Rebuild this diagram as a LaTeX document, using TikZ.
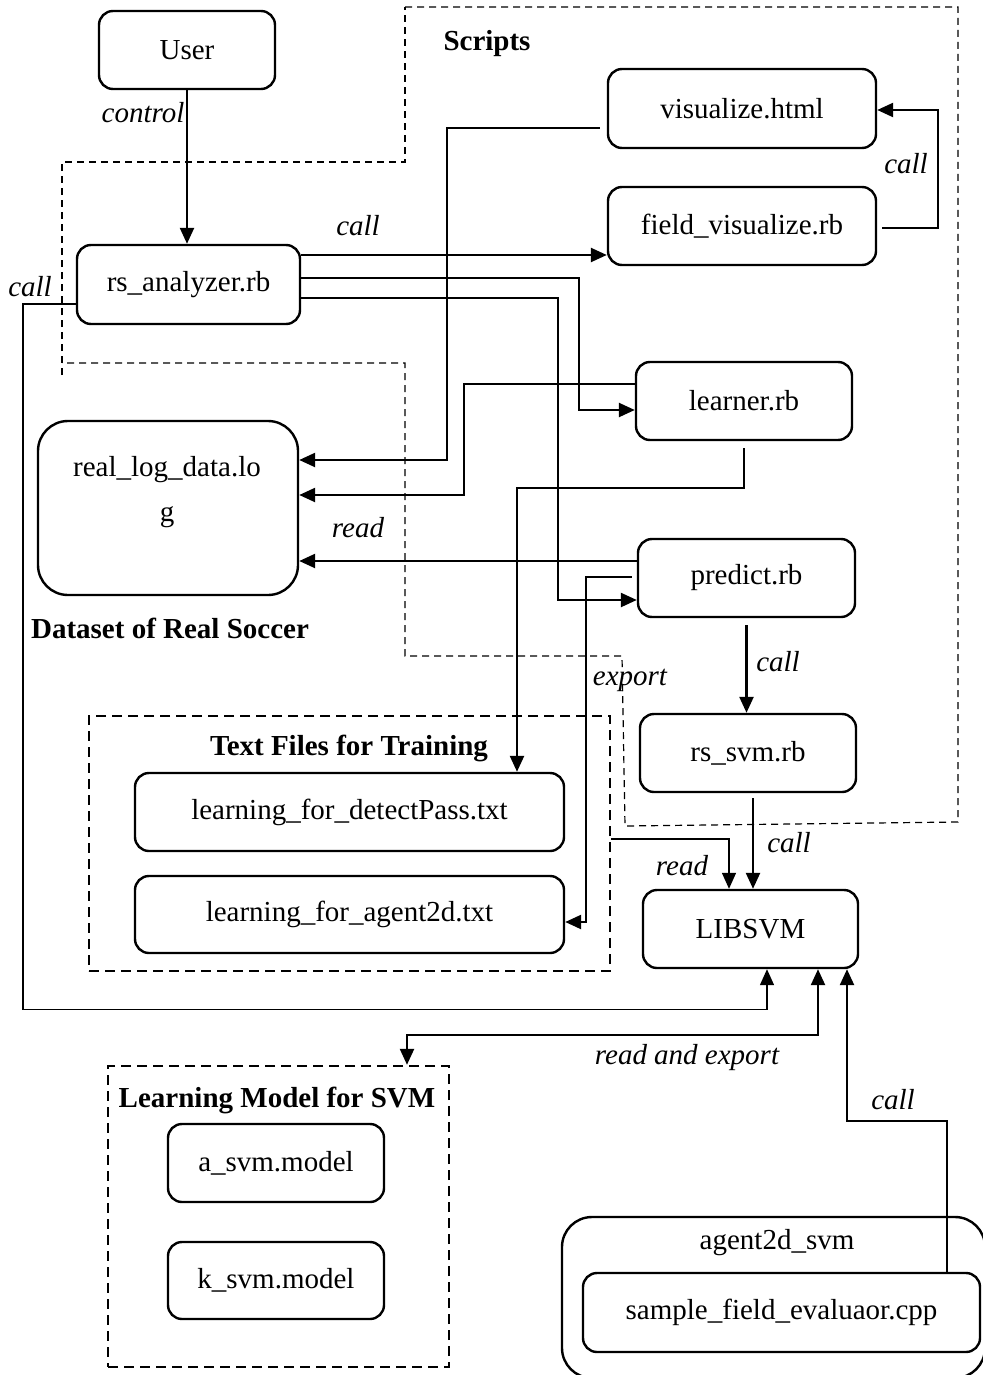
\documentclass[tikz,border=0pt]{standalone}
\usepackage{fontspec}
\setmainfont{Liberation Serif}
\usepackage{tikz}
\usetikzlibrary{calc}
\usetikzlibrary{arrows.meta}
\newcommand{\figfont}{\fontsize{14.5pt}{17pt}\selectfont}
\tikzset{box/.style={draw,line width=1.2pt,rounded corners=7pt,inner sep=0pt,font=\figfont},
    grp/.style={draw,line width=1.2pt,dash pattern=on 5pt off 3pt,inner sep=0pt},
    lbl/.style={inner sep=0pt,font=\figfont\itshape},
    ttl/.style={inner sep=0pt,font=\figfont\bfseries},
    conn/.style={line width=1.2pt,-{Triangle[length=8pt,width=7pt]}},
    thinconn/.style={line width=0.7pt,-{Triangle[length=8pt,width=7pt]}},
    region/.style={line width=0.6pt,dash pattern=on 3.5pt off 2.5pt}}

\begin{document}
\begin{tikzpicture}[x=0.5pt,y=0.5pt,yscale=-1,xscale=1]
\useasboundingbox (0,0) rectangle (982,1375);

%Dashed region: Scripts
\draw[region] (405,7) -- (958,7) -- (958,822) -- (625,826) -- (622,656) -- (405,656) -- (405,363) -- (62,363) ;
\draw[region] (62,375) -- (62,162) -- (405,162) -- (405,7) ;

%Rounded Rects
\node[box,minimum width=88pt,minimum height=39pt] (user) at (187,50) {User};
\node[box,minimum width=111.5pt,minimum height=39.5pt] (rsa) at (188.5,284.5) {rs\_analyzer.rb};
\node[box,minimum width=134pt,minimum height=39.5pt] (vis) at (742,108.5) {visualize.html};
\node[box,minimum width=134pt,minimum height=39pt] (fvis) at (742,226) {field\_visualize.rb};
\node[box,minimum width=108pt,minimum height=39pt] (learner) at (744,401) {learner.rb};
\node[box,minimum width=108.5pt,minimum height=39pt] (predict) at (746.5,578) {predict.rb};
\node[box,minimum width=108pt,minimum height=39pt] (rssvm) at (748,753) {rs\_svm.rb};
\node[box,minimum width=107.5pt,minimum height=39pt] (libsvm) at (750.5,929) {LIBSVM};
\node[box,rounded corners=15pt,minimum width=130pt,minimum height=87pt] (log) at (168,508) {};
\node[inner sep=0pt,align=center,font=\fontsize{14.5pt}{22.5pt}\selectfont] (logname) at (167,492) {real\_log\_data.lo\\g};

%Dashed groups
\node[grp,minimum width=260.5pt,minimum height=127.5pt] (txtgrp) at (349.5,843.5) {};
\node[box,minimum width=214.5pt,minimum height=39pt] (det) at (349.5,812) {learning\_for\_detectPass.txt};
\node[box,minimum width=214.5pt,minimum height=38.5pt] (agt) at (349.5,914.5) {learning\_for\_agent2d.txt};
\node[grp,minimum width=170.5pt,minimum height=150.5pt] (lmgrp) at (278.5,1216.5) {};
\node[box,minimum width=108pt,minimum height=39pt] (asvm) at (276,1163) {a\_svm.model};
\node[box,minimum width=108pt,minimum height=38.5pt] (ksvm) at (276,1280.5) {k\_svm.model};
\node[box,rounded corners=15pt,minimum width=211.5pt,minimum height=80.5pt] (agent) at (773.5,1297.5) {};
\node[box,minimum width=198.5pt,minimum height=39.5pt] (sfe) at (781.5,1312.5) {sample\_field\_evaluaor.cpp};

%Connectors
\draw[conn] (user.south) -- (user.south |- rsa.north) ;
\draw[conn] ($(rsa.east)+(0,-29.5)$) -- ($(fvis.west)+(0,29)$) ;
\draw[conn] ($(rsa.east)+(0,-6.5)$) -- ++(278,0) |- ($(learner.west)+(0,9)$) ;
\draw[conn] ($(rsa.east)+(0,13.5)$) -- ++(257,0) |- ($(predict.west)+(0,22)$) ;
\draw[conn,shorten <=3.5pt] ($(vis.west)+(0,19.5)$) -- ++(-160,0) |- ($(log.east)+(0,-48)$) ;
\draw[conn] ($(learner.west)+(0,-17)$) -- ++(-171,0) |- ($(log.east)+(0,-13)$) ;
\draw[conn,shorten <=3.5pt] (learner.south) -- ++(0,47) -| ($(det.north)+(167.5,0)$) ;
\draw[conn] ($(predict.west)+(0,-17)$) -- ($(log.east)+(0,53)$) ;
\draw[conn,shorten <=2.5pt] ($(predict.west)+(0,-1)$) -- ++(-51,0) |- ($(agt.east)+(0,7.5)$) ;
\draw[conn,shorten <=3.5pt] (predict.south) -- (predict.south |- rssvm.north) ;
\draw[conn,shorten <=2.5pt] ($(rssvm.south)+(5,0)$) -- ($(libsvm.north)+(2.5,0)$) ;
\draw[thinconn] ($(txtgrp.east)+(0,-4.5)$) -| ($(libsvm.north)+(-21.5,0)$) ;
\draw[thinconn] ($(rsa.west)+(0,19.5)$) -- ++(-53,0) |- ($(libsvm.south)+(16.5,40)$) -- ($(libsvm.south)+(16.5,0)$) ;
\draw[conn,{Triangle[length=8pt,width=7pt]}-{Triangle[length=8pt,width=7pt]}] ($(libsvm.south)+(67.5,0)$) -- ++(0,66) -| ($(lmgrp.north)+(128.5,0)$) ;
\draw[conn] ($(sfe.north)+(165.5,0)$) -- ++(0,-151) -| ($(libsvm.south)+(96.5,0)$) ;
\draw[conn] ($(fvis.east)+(5,2)$) -- ++(56,0) |- ($(vis.east)+(0,1.5)$) ;

% Text Node
\node[ttl] (scripts) at (487,44) {Scripts};
\node[ttl] (dataset) at (170,628) {Dataset of Real Soccer};
\node[ttl] (txttitle) at (349,748) {Text Files for Training};
\node[ttl] (lmtitle) at (277,1100) {Learning Model for SVM};
\node[inner sep=0pt,font=\figfont] (agentname) at (777,1243) {agent2d\_svm};
% Text Node
\node[lbl] (control) at (143,113) {control};
\node[lbl] (callfv) at (358,226) {call};
\node[lbl] (calllib) at (30,287) {call};
\node[lbl] (callvis) at (906,164) {call};
\node[lbl] (readlog) at (358,528) {read};
\node[lbl] (export) at (630,680) {export};
\node[lbl] (callsvm) at (778,662) {call};
\node[lbl] (calllibsvm) at (789,843) {call};
\node[lbl] (readtxt) at (682,866) {read};
\node[lbl] (readexp) at (687,1058) {read and export};
\node[lbl] (callsfe) at (893,1100) {call};

\end{tikzpicture}
\end{document}
